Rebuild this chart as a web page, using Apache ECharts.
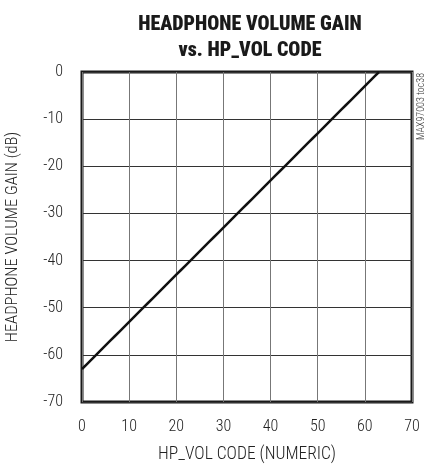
<!DOCTYPE html>
<html>
<head>
<meta charset="utf-8">
<script src="https://cdn.jsdelivr.net/npm/echarts@6/dist/echarts.min.js"></script>
<style>
  html, body { margin: 0; padding: 0; background: #fff; }
  #chart { width: 425px; height: 464px; }
</style>
</head>
<body>
<div id="chart"></div>
<script>
// HP_VOL code (0..63) and measured headphone gain in dB
const codes = [
  0, 1, 2, 3, 4, 5, 6, 7, 8, 9,
  10, 11, 12, 13, 14, 15, 16, 17, 18, 19,
  20, 21, 22, 23, 24, 25, 26, 27, 28, 29,
  30, 31, 32, 33, 34, 35, 36, 37, 38, 39,
  40, 41, 42, 43, 44, 45, 46, 47, 48, 49,
  50, 51, 52, 53, 54, 55, 56, 57, 58, 59,
  60, 61, 62, 63
];
const gainDb = [
  -63, -62, -61, -60, -59, -58, -57, -56, -55, -54,
  -53, -52, -51, -50, -49, -48, -47, -46, -45, -44,
  -43, -42, -41, -40, -39, -38, -37, -36, -35, -34,
  -33, -32, -31, -30, -29, -28, -27, -26, -25, -24,
  -23, -22, -21, -20, -19, -18, -17, -16, -15, -14,
  -13, -12, -11, -10, -9, -8, -7, -6, -5, -4,
  -3, -2, -1, 0
];
const xTicks = [0, 10, 20, 30, 40, 50, 60, 70];
const yTicks = [-70, -60, -50, -40, -30, -20, -10, 0];

// light condensed face for axis text (weight string carries the stretch keyword)
const lightFamily = 'Roboto, "Liberation Sans", sans-serif';
const lightWeight = '300 condensed';

const chart = echarts.init(document.getElementById('chart'), null, { renderer: 'canvas' });
chart.setOption({
  backgroundColor: '#fff',
  animation: false,
  graphic: [{
    type: 'text',
    x: 250, y: 12,
    style: {
      text: 'HEADPHONE VOLUME GAIN\nvs. HP_VOL CODE',
      font: 'condensed 900 20px Roboto, "Liberation Sans", sans-serif',
      lineHeight: 26, align: 'center', verticalAlign: 'top', fill: '#1a1a1a'
    }
  }, {
    type: 'text',
    x: 416, y: 73,
    rotation: Math.PI / 2,
    style: {
      text: 'MAX97003 toc38',
      font: 'condensed 300 10px Roboto, sans-serif',
      align: 'right', verticalAlign: 'top', fill: '#333'
    }
  }],
  grid: {
    left: 82, top: 72, width: 330, height: 330,
    outerBoundsMode: 'none', containLabel: false,
    show: true, borderColor: '#1a1a1a', borderWidth: 3, backgroundColor: 'transparent'
  },
  xAxis: {
    type: 'value', min: xTicks[0], max: xTicks[xTicks.length - 1], interval: 10,
    name: 'HP_VOL CODE (NUMERIC)', nameLocation: 'middle', nameGap: 44,
    nameTextStyle: { fontFamily: lightFamily, fontWeight: lightWeight, fontSize: 17.5, color: '#222' },
    axisLine: { show: false }, axisTick: { show: false },
    axisLabel: { fontFamily: lightFamily, fontWeight: lightWeight, fontSize: 16, color: '#222', margin: 17 },
    splitLine: { show: true, lineStyle: { color: '#777', width: 1 } }
  },
  yAxis: {
    type: 'value', min: yTicks[0], max: yTicks[yTicks.length - 1], interval: 10,
    name: 'HEADPHONE VOLUME GAIN (dB)', nameLocation: 'middle', nameGap: 61,
    nameTextStyle: { fontFamily: lightFamily, fontWeight: lightWeight, fontSize: 16.5, color: '#222' },
    axisLine: { show: false }, axisTick: { show: false },
    axisLabel: { fontFamily: lightFamily, fontWeight: lightWeight, fontSize: 16, color: '#222', margin: 19 },
    splitLine: { show: true, lineStyle: { color: '#333', width: 1 } }
  },
  series: [{
    type: 'line',
    data: codes.map((c, i) => [c, gainDb[i]]),
    showSymbol: false,
    lineStyle: { color: '#111', width: 2.5 },
    z: 3
  }]
});
</script>
</body>
</html>
